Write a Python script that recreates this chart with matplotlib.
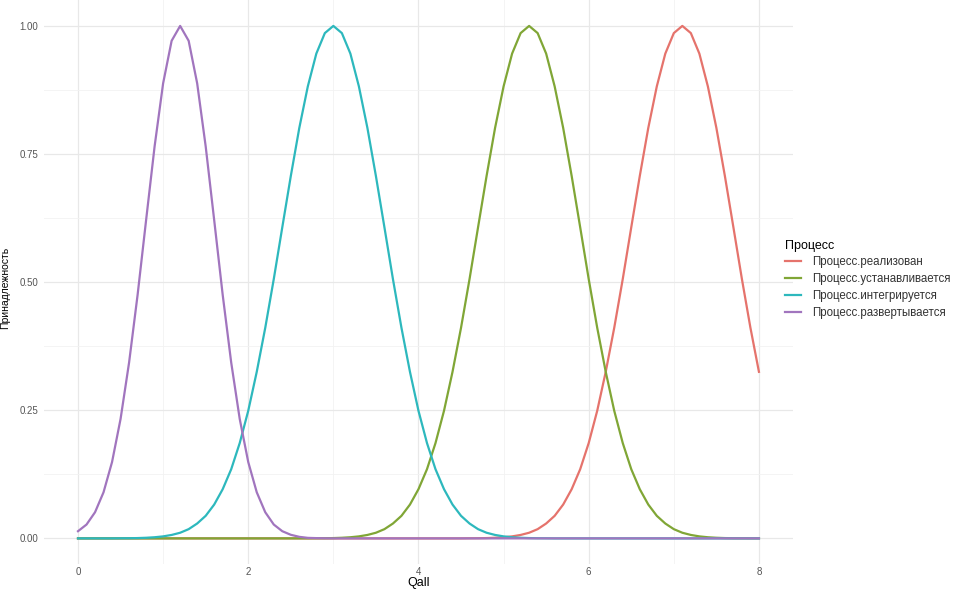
import matplotlib.pyplot as plt

plt.rcParams['font.family'] = ['Liberation Sans', 'DejaVu Sans']

# Qall grid (step 0.1)
qall = [0.0, 0.1, 0.2, 0.3, 0.4, 0.5, 0.6, 0.7, 0.8, 0.9,
        1.0, 1.1, 1.2, 1.3, 1.4, 1.5, 1.6, 1.7, 1.8, 1.9,
        2.0, 2.1, 2.2, 2.3, 2.4, 2.5, 2.6, 2.7, 2.8, 2.9,
        3.0, 3.1, 3.2, 3.3, 3.4, 3.5, 3.6, 3.7, 3.8, 3.9,
        4.0, 4.1, 4.2, 4.3, 4.4, 4.5, 4.6, 4.7, 4.8, 4.9,
        5.0, 5.1, 5.2, 5.3, 5.4, 5.5, 5.6, 5.7, 5.8, 5.9,
        6.0, 6.1, 6.2, 6.3, 6.4, 6.5, 6.6, 6.7, 6.8, 6.9,
        7.0, 7.1, 7.2, 7.3, 7.4, 7.5, 7.6, 7.7, 7.8, 7.9,
        8.0]

realized = [0] * 46 + [
    0.0002, 0.0003, 0.0006, 0.0012, 0.0022, 0.0039, 0.0067, 0.011, 0.018, 0.029,
    0.044, 0.066, 0.096, 0.135, 0.186, 0.249, 0.325, 0.411, 0.506, 0.607,
    0.707, 0.801, 0.882, 0.946, 0.986, 1.000, 0.986, 0.946, 0.882, 0.801,
    0.707, 0.607, 0.506, 0.411, 0.325]

installing = [0] * 28 + [
    0.0002, 0.0003, 0.0006, 0.0012, 0.0022, 0.0039, 0.0067, 0.011, 0.018, 0.029,
    0.044, 0.066, 0.096, 0.135, 0.186, 0.249, 0.325, 0.411, 0.506, 0.607,
    0.707, 0.801, 0.882, 0.946, 0.986, 1.000, 0.986, 0.946, 0.882, 0.801,
    0.707, 0.607, 0.506, 0.411, 0.325, 0.249, 0.186, 0.135, 0.096, 0.066,
    0.044, 0.029, 0.018, 0.011, 0.0067, 0.0039, 0.0022, 0.0012, 0.0006, 0.0003,
    0.0002, 0.0001, 0.0001]

integrating = [0] * 5 + [
    0.0002, 0.0003, 0.0006, 0.0012, 0.0022, 0.0039, 0.0067, 0.011, 0.018, 0.029,
    0.044, 0.066, 0.096, 0.135, 0.186, 0.249, 0.325, 0.411, 0.506, 0.607,
    0.707, 0.801, 0.882, 0.946, 0.986, 1.000, 0.986, 0.946, 0.882, 0.801,
    0.707, 0.607, 0.506, 0.411, 0.325, 0.249, 0.186, 0.135, 0.096, 0.066,
    0.044, 0.029, 0.018, 0.011, 0.0067, 0.0039, 0.0022, 0.0012, 0.0006, 0.0003,
    0.0002] + [0] * 25

deploying = [
    0.014, 0.027, 0.051, 0.090, 0.149, 0.233, 0.343, 0.475, 0.621, 0.765,
    0.888, 0.971, 1.000, 0.971, 0.888, 0.765, 0.621, 0.475, 0.343, 0.233,
    0.149, 0.090, 0.051, 0.027, 0.014, 0.007, 0.003, 0.001, 0.0005, 0.0002] + [0] * 51

labels = ['Процесс.реализован', 'Процесс.устанавливается',
          'Процесс.интегрируется', 'Процесс.развертывается']
colors = ['#E5736C', '#80A636', '#2DB8BD', '#A175BE']

fig = plt.figure(figsize=(9.64, 5.94), dpi=100)
ax = fig.add_axes([0.0456, 0.0505, 0.777, 0.949])

for ys, lab, col in zip([realized, installing, integrating, deploying], labels, colors):
    ax.plot(qall, ys, color=col, lw=1.6, label=lab)

ax.set_xlim(-0.4, 8.4)
ax.set_ylim(-0.05, 1.05)
ax.set_xticks([0, 2, 4, 6, 8])
ax.set_xticks([1, 3, 5, 7], minor=True)
ax.set_yticks([0, 0.25, 0.5, 0.75, 1.0])
ax.set_yticklabels(['0.00', '0.25', '0.50', '0.75', '1.00'])
ax.set_yticks([0.125, 0.375, 0.625, 0.875], minor=True)
ax.grid(True, which='major', color='#E8E8E8', lw=0.9)
ax.grid(True, which='minor', color='#F2F2F2', lw=0.6)
ax.set_axisbelow(True)
for s in ax.spines.values():
    s.set_visible(False)
ax.tick_params(which='both', length=0, labelsize=7, labelcolor='#555555', pad=4)
ax.tick_params(axis='x', pad=2)

ax.set_xlabel('Qall', fontsize=9, labelpad=0)
ax.set_ylabel('Принадлежность', fontsize=7.5)
ax.yaxis.set_label_coords(-0.045, 0.49)

leg = ax.legend(loc='center left', bbox_to_anchor=(0.975, 0.505), frameon=False,
                title='Процесс', fontsize=8.3, title_fontsize=9,
                handlelength=1.45, handletextpad=0.95, labelspacing=0.42)
leg._legend_box.align = 'left'
for t in leg.get_texts():
    t.set_color('#333333')

fig.savefig('out.png', dpi=100)
